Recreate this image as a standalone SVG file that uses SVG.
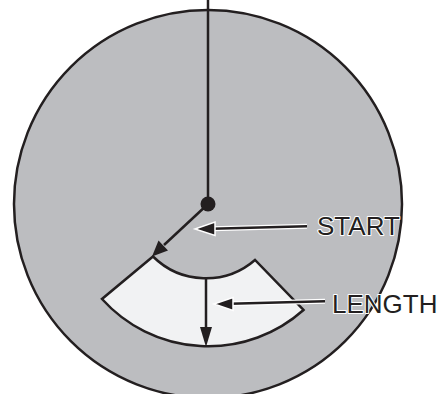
<svg xmlns="http://www.w3.org/2000/svg" width="445" height="394" viewBox="0 0 445 394">
<style>
.ln{stroke:#231f20;stroke-width:2.5;fill:none;stroke-linecap:butt}
.halo{stroke:#ffffff;stroke-width:5;fill:none}
.hd{fill:#231f20}
.hdh{fill:#231f20;stroke:#ffffff;stroke-width:1.5}
.lbl{font-family:"Liberation Sans",Arial,sans-serif;font-size:26px;fill:#231f20;stroke:#ffffff;stroke-width:2;paint-order:stroke;stroke-linejoin:round}
</style>
<rect width="445" height="394" fill="#ffffff"/>
<g id="disc">
<circle cx="208" cy="204" r="194" fill="#bcbdc0" stroke="#231f20" stroke-width="2.5"/>
</g>
<g id="sector">
<path d="M153 256.5 A75 75 0 0 0 255 260 L303.5 310 A143 143 0 0 1 102 299 Z" fill="#f1f2f3" stroke="#231f20" stroke-width="2.5" stroke-linejoin="miter"/>
</g>
<g id="connectors">
<line class="ln" x1="208" y1="0" x2="208" y2="204"/>
<line class="ln" x1="208" y1="204" x2="164" y2="245"/>
<polygon class="hd" points="152,256.5 158.5,240.5 168,250.5"/>
<line class="ln" x1="206" y1="278" x2="206" y2="330"/>
<polygon class="hd" points="206,347 200,327 212,327"/>
<line class="halo" x1="307" y1="226.3" x2="212" y2="228.7"/>
<line class="ln" x1="307" y1="226.3" x2="212" y2="228.7"/>
<polygon class="hdh" points="195,229 215,222 215,235.5"/>
<line class="halo" x1="325" y1="301.3" x2="230" y2="303.7"/>
<line class="ln" x1="325" y1="301.3" x2="230" y2="303.7"/>
<polygon class="hdh" points="214,304 233,297.5 233,310.5"/>
</g>
<g id="dot">
<circle cx="208" cy="204" r="7.5" fill="#231f20"/>
</g>
<g id="label-start">
<text class="lbl" x="317" y="235">START</text>
</g>
<g id="label-length">
<text class="lbl" x="332" y="313">LENGTH</text>
</g>
</svg>
